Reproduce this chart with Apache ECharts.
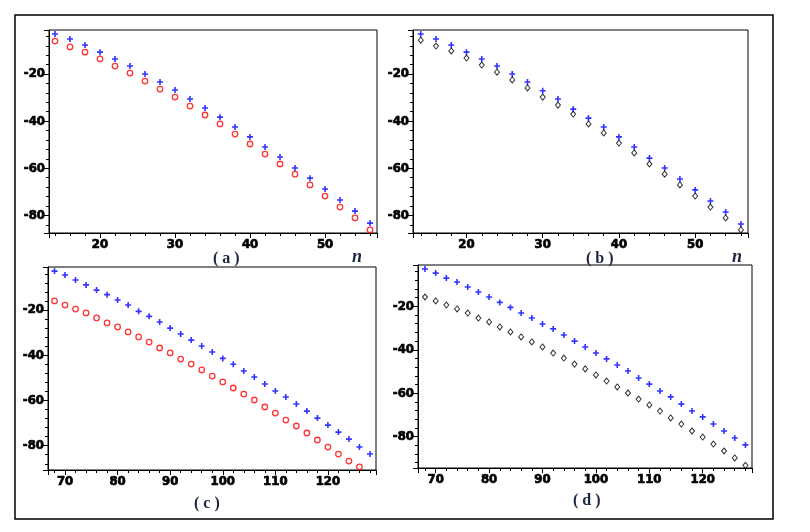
<!DOCTYPE html>
<html>
<head>
<meta charset="utf-8">
<script src="https://cdn.jsdelivr.net/npm/echarts@6/dist/echarts.min.js"></script>
<style>
    html, body { margin: 0; padding: 0; background: #fff; }
    #chart { width: 810px; height: 532px; }
</style>
</head>
<body>
<div id="chart"></div>
<script>
// n 值 (a, b 两图)
var nAB = [14, 16, 18, 20, 22, 24, 26, 28, 30, 32, 34, 36, 38, 40, 42, 44, 46, 48, 50, 52, 54, 56];
// n 值 (c, d 两图)
var nCD = [68, 70, 72, 74, 76, 78, 80, 82, 84, 86, 88, 90, 92, 94, 96, 98, 100, 102, 104, 106,
    108, 110, 112, 114, 116, 118, 120, 122, 124, 126, 128];

// (a) 蓝色 + 与红色 o
var plusA = [-3.0, -5.1, -7.7, -10.7, -13.6, -16.6, -20.0, -23.4, -26.8, -30.6, -34.4,
    -38.3, -42.5, -46.7, -51.0, -55.2, -59.9, -64.2, -68.8, -73.5, -78.2, -83.3];
var circA = [-6.0, -8.5, -10.7, -13.6, -16.6, -19.6, -23.0, -26.4, -29.8, -33.6, -37.4,
    -41.2, -45.5, -49.7, -54.0, -58.2, -62.5, -67.1, -71.8, -76.5, -81.1, -86.2];
// (b) 蓝色 + 与黑色菱形
var plusB = [-3.0, -5.1, -7.7, -10.7, -13.6, -16.6, -20.0, -23.4, -27.1, -30.6, -34.9,
    -38.7, -42.5, -46.7, -51.0, -55.7, -59.9, -64.6, -69.2, -73.9, -78.6, -83.7];
var diamB = [-5.6, -8.1, -10.2, -13.2, -16.2, -19.2, -22.5, -25.9, -29.8, -33.2, -37.0,
    -41.2, -45.0, -49.3, -53.5, -58.2, -62.5, -67.1, -71.8, -76.5, -81.1, -86.2];
// (c)
var plusC = [-2.8, -4.5, -6.7, -8.9, -11.2, -13.2, -15.6, -17.8, -20.6, -22.8, -25.3, -28.0,
    -30.6, -33.3, -35.9, -38.6, -41.4, -44.0, -47.0, -49.6, -52.7, -55.8, -58.5, -61.6,
    -64.7, -67.8, -70.9, -74.0, -77.1, -80.6, -83.7];
var circC = [-16.0, -17.8, -19.6, -21.3, -23.5, -25.7, -27.5, -29.7, -31.9, -34.2, -36.8, -39.0,
    -41.7, -43.9, -46.5, -49.2, -51.8, -54.5, -57.2, -59.8, -62.9, -65.6, -68.7, -71.3,
    -74.4, -77.5, -80.6, -83.7, -86.8, -89.4];
// (d)
var plusD = [-2.8, -4.7, -7.0, -8.8, -11.1, -13.4, -15.7, -18.2, -20.5, -23.1, -25.4, -28.1,
    -30.4, -33.2, -36.0, -38.7, -41.5, -44.2, -47.0, -49.8, -53.0, -55.8, -59.0, -61.7,
    -65.0, -68.2, -70.9, -74.2, -77.4, -80.6, -83.8];
var diamD = [-15.7, -17.5, -19.4, -21.2, -23.1, -25.4, -27.2, -29.5, -31.8, -34.1, -36.4, -38.7,
    -41.5, -43.8, -46.6, -48.8, -51.6, -54.4, -57.1, -59.9, -62.7, -65.4, -68.2, -71.4,
    -74.2, -77.4, -80.2, -83.4, -86.6, -89.8, -93.2];

var panelLabels = ['( a )', '( b )', '( c )', '( d )'];

var BLUE = '#0000ff', RED = '#ff0000', BLACK = '#000000';
var PLUS = 'path://M5,0 L5,10 M0,5 L10,5';

// 简单的 extend
function extend(a, b) {
    for (var k in b) { a[k] = b[k]; }
    return a;
}

function tickFont() {
    return {
        fontFamily: "'DejaVu Sans Condensed', 'Liberation Sans Narrow', 'DejaVu Sans', sans-serif",
        fontWeight: 'bold', fontSize: 13, color: '#000',
        textBorderColor: '#000', textBorderWidth: 0.7
    };
}

function pairs(xs, ys) {
    var out = [];
    for (var i = 0; i < ys.length; i++) {
        out.push([xs[i], ys[i]]);
    }
    return out;
}

// 坐标轴公共配置
function makeAxis(idx, min, max, margin) {
    return {
        type: 'value', gridIndex: idx, min: min, max: max,
        axisLine: {show: true, lineStyle: {color: '#000', width: 1}},
        axisTick: {show: true, inside: false, length: 5, lineStyle: {color: '#000'}},
        minorTick: {show: true, splitNumber: 5, length: 3, lineStyle: {color: '#000'}},
        splitLine: {show: false},
        axisLabel: extend({margin: margin, showMinLabel: false, showMaxLabel: false}, tickFont())
    };
}

function plusSeries(idx, data) {
    return {
        type: 'scatter', xAxisIndex: idx, yAxisIndex: idx, data: data,
        symbol: PLUS, symbolSize: 6, silent: true,
        itemStyle: {color: 'rgba(0,0,0,0)', borderColor: BLUE, borderWidth: 1.6}
    };
}
function circleSeries(idx, data) {
    return {
        type: 'scatter', xAxisIndex: idx, yAxisIndex: idx, data: data,
        symbol: 'circle', symbolSize: 5.5, silent: true,
        itemStyle: {color: '#fff', borderColor: RED, borderWidth: 1.3}
    };
}
function diamondSeries(idx, data) {
    return {
        type: 'scatter', xAxisIndex: idx, yAxisIndex: idx, data: data,
        symbol: 'diamond', symbolSize: [5, 6], silent: true,
        itemStyle: {color: '#fff', borderColor: BLACK, borderWidth: 1}
    };
}

function gridBox(left, top, width, height) {
    return {left: left, top: top, width: width, height: height, show: true,
        borderColor: '#000', borderWidth: 1, backgroundColor: '#fff'};
}

var labelFont = "bold 16px 'Liberation Serif', 'DejaVu Serif', serif";
var nFont = "italic bold 18px 'Liberation Serif', 'DejaVu Serif', serif";
function textEl(x, y, s, font) {
    return {
        type: 'text', left: x, top: y, silent: true,
        style: {text: s, font: font, fill: '#1b2640', textAlign: 'center', textVerticalAlign: 'middle'}
    };
}

var chart = echarts.init(document.getElementById('chart'));
var option = {
    animation: false,
    backgroundColor: '#fff',
    grid: [
        gridBox(49, 30, 328, 203),
        gridBox(413, 30, 335, 203),
        gridBox(48, 267, 328, 203),
        gridBox(418, 265, 334, 203)
    ],
    xAxis: [
        makeAxis(0, 13.2, 56.93, 5),
        makeAxis(1, 12.98, 56.93, 5),
        makeAxis(2, 66.76, 129.15, 5),
        makeAxis(3, 66.69, 129.23, 5)
    ],
    yAxis: [
        makeAxis(0, -87.5, -1.3, 4),
        makeAxis(1, -87.5, -1.3, 4),
        makeAxis(2, -90.76, -0.98, 4),
        makeAxis(3, -94.43, -0.97, 4)
    ],
    series: [
        circleSeries(0, pairs(nAB, circA)),
        plusSeries(0, pairs(nAB, plusA)),
        diamondSeries(1, pairs(nAB, diamB)),
        plusSeries(1, pairs(nAB, plusB)),
        circleSeries(2, pairs(nCD, circC)),
        plusSeries(2, pairs(nCD, plusC)),
        diamondSeries(3, pairs(nCD, diamD)),
        plusSeries(3, pairs(nCD, plusD))
    ],
    graphic: [
        {
            type: 'rect', silent: true, z: -1,
            shape: {x: 15, y: 15, width: 758, height: 504},
            style: {fill: 'none', stroke: '#000', lineWidth: 1.5}
        },
        textEl(213, 251, panelLabels[0], labelFont),
        textEl(586, 251, panelLabels[1], labelFont),
        textEl(194, 496, panelLabels[2], labelFont),
        textEl(573, 493, panelLabels[3], labelFont),
        textEl(352, 248, 'n', nFont),
        textEl(732, 248, 'n', nFont)
    ]
};
chart.setOption(option);
</script>
</body>
</html>
